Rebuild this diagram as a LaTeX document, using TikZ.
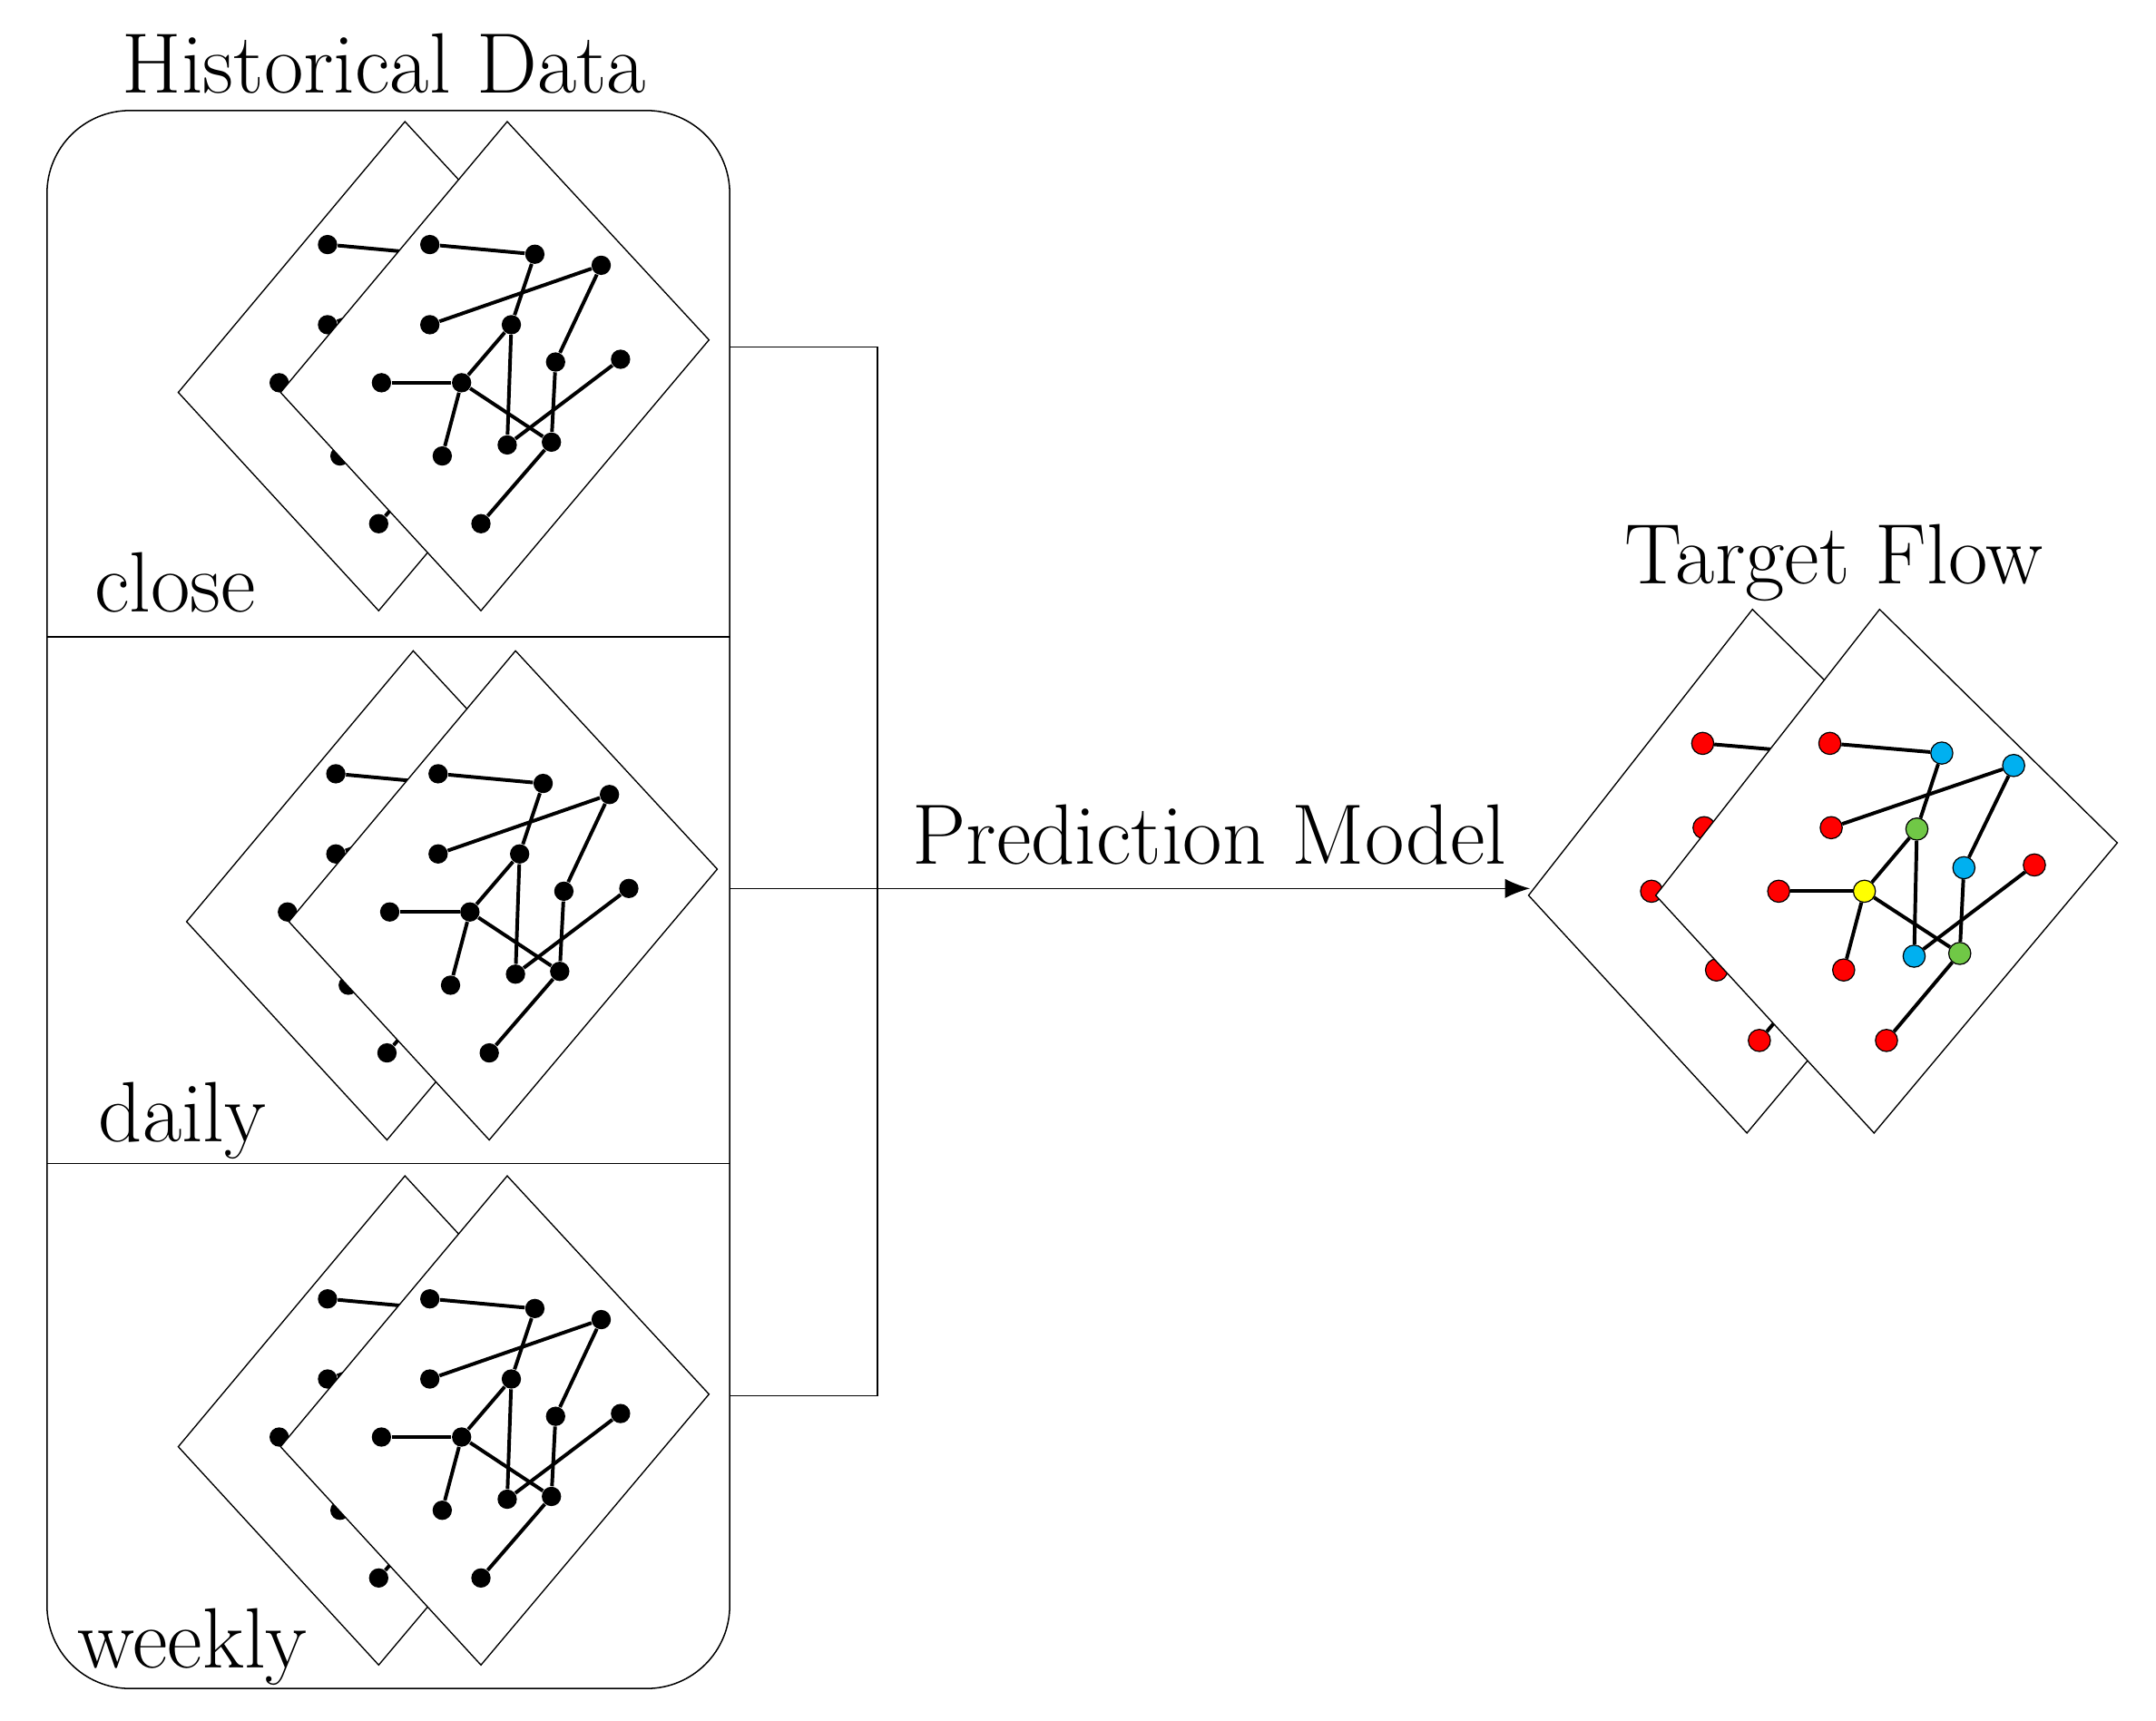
\documentclass[tikz,border=0pt]{standalone}
\usetikzlibrary{arrows.meta}
\definecolor{nblue}{RGB}{0,176,240}
\definecolor{ngreen}{RGB}{112,200,70}
\definecolor{nred}{RGB}{255,0,0}
\definecolor{nyellow}{RGB}{255,255,0}
\begin{document}
\begin{tikzpicture}[x=0.5pt,y=-0.5pt,
  dia/.style={draw=black,line width=0.45pt,fill=white},
  edge/.style={line width=1.3pt},
  dot/.style={circle,inner sep=0pt,minimum size=7pt,fill=black},
  cdot/.style={circle,inner sep=0pt,minimum size=8pt,draw=black,line width=0.4pt,fill=#1},
  thin/.style={line width=0.5pt},
  lbl/.style={font=\fontsize{31}{36}\selectfont,inner sep=0pt},
  pics/hgraph/.style={code={
    \draw[dia] (0,0) -- (146,158) -- (-19,354) -- (-164,196) -- cycle;
    \foreach \n/\x/\y in {a/-56/89,b/20/96,c/68/104,d/-56/147,e/3/147,f/35/174,g/82/172,h/-91/189,i/-33/189,j/-47/242,k/0/234,l/32/232,m/-19/291}
      \node[dot] (-\n) at (\x,\y) {};
    \foreach \u/\v in {a/b,b/e,d/c,c/f,e/i,e/k,h/i,i/j,i/l,f/l,k/g,l/m}
      \draw[edge] (-\u) -- (-\v);
  }},
  pics/tgraph/.style={code={
    \draw[dia] (0,0) -- (172,169) -- (-4,379) -- (-162,207) -- cycle;
    \foreach \n/\x/\y/\c in {a/-36/97/nred,b/45/104/nblue,c/97/113/nblue,d/-35/158/nred,e/27/159/ngreen,f/61/187/nblue,g/112/185/nred,h/-73/204/nred,i/-11/204/nyellow,j/-26/261/nred,k/25/251/nblue,l/58/249/ngreen,m/5/312/nred}
      \node[cdot=\c] (-\n) at (\x,\y) {};
    \foreach \u/\v in {a/b,b/e,d/c,c/f,e/i,e/k,h/i,i/j,i/l,f/l,k/g,l/m}
      \draw[edge] (-\u) -- (-\v);
  }}
]
\useasboundingbox (0,0) rectangle (1560,1245);
% outer box
\draw[thin,rounded corners=30pt] (34,80) rectangle (528,1222);
\draw[thin] (34,461) -- (528,461);
\draw[thin] (34,842) -- (528,842);
% panels
\pic (c0) at (293,88) {hgraph};
\pic (c1) at (367,88) {hgraph};
\pic (d0) at (299,471) {hgraph};
\pic (d1) at (373,471) {hgraph};
\pic (w0) at (293,851) {hgraph};
\pic (w1) at (367,851) {hgraph};
% target
\pic (t0) at (1268,441) {tgraph};
\pic (t1) at (1360,441) {tgraph};
% labels
\node[lbl] (hd) at (278,46) {Historical Data};
\node[lbl] (tf) at (1327,407) {Target Flow};
\node[lbl,anchor=base west] (lc) at (68,443) {close};
\node[lbl,anchor=base west] (ld) at (71,826) {daily};
\node[lbl,anchor=base west] (lw) at (56,1207) {weekly};
% bracket and arrow
\coordinate (b1) at (528,251);
\coordinate (b2) at (635,251);
\coordinate (b3) at (635,1010);
\coordinate (b4) at (528,1010);
\coordinate (bm) at (528,643);
\coordinate (tip) at (1107,643);
\draw[thin] (b1) -- (b2) -- (b3) -- (b4);
\draw[thin,-{Latex[length=9pt,width=7pt]}] (bm) -- (tip);
\node[lbl] (pm) at (875,604) {Prediction Model};
\end{tikzpicture}
\end{document}
